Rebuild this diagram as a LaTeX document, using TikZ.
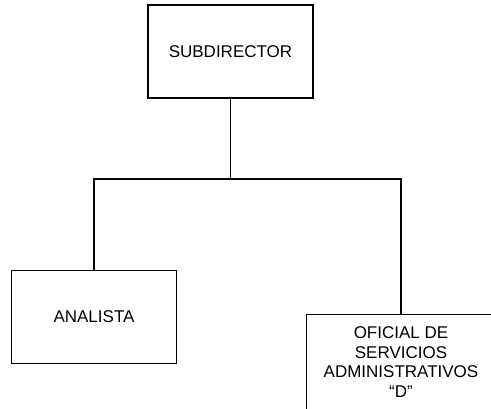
\documentclass[tikz,border=0pt]{standalone}
\usepackage{fontspec}
\setmainfont{Liberation Sans}
\begin{document}
\begin{tikzpicture}[x=1pt,y=-1pt,
  box/.style={draw,line width=1.4pt,minimum width=165pt,minimum height=93pt,
    align=center,inner sep=0pt,font=\fontsize{17}{19.7}\selectfont},
  conn/.style={line width=1.4pt}]
\useasboundingbox (0,0) rectangle (491,408);
\clip (0,0) rectangle (491,408);
\node[box] (sub) at (230.5,51.5) {SUBDIRECTOR};
\node[box] (ana) at (94,317) {ANALISTA};
\node[box,draw=none,minimum width=188pt,minimum height=94pt] (ofi) at (401,362)
  {OFICIAL DE\\SERVICIOS\\ADMINISTRATIVOS\\``D''};
\draw[line width=1.4pt] (ofi.north west) rectangle ++(210,110);
\coordinate (bus) at (230.5,179);
\draw[conn] (sub.south) -- (bus);
\draw[conn] (ana.north) |- (bus) -| (ofi.north);
\end{tikzpicture}
\end{document}
